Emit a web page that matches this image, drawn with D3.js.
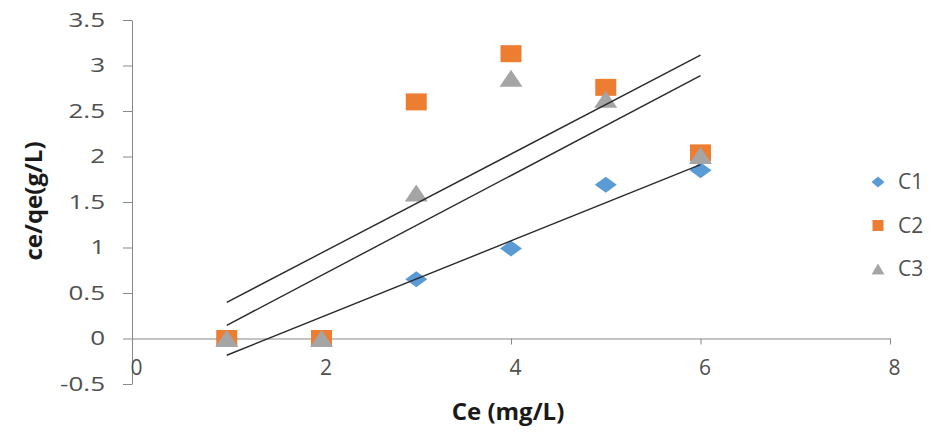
<!DOCTYPE html>
<html>
<head>
<meta charset="utf-8">
<script src="https://cdn.jsdelivr.net/npm/d3@7"></script>
<style>
  body { margin: 0; background: #fff; }
  svg text { font-family: "Open Sans", "DejaVu Sans", sans-serif; }
</style>
</head>
<body>
<div id="chart"></div>
<script>
// Data
const ce = [1, 2, 3, 4, 5, 6];
const c1 = [0, 0, 0.65, 0.99, 1.69, 1.85];
const c2 = [0, 0, 2.60, 3.13, 2.76, 2.04];
const c3 = [0, 0, 1.60, 2.86, 2.63, 2.01];
const seriesNames = ["C1", "C2", "C3"];
const xTicks = [0, 2, 4, 6, 8];
const yTicks = [-0.5, 0, 0.5, 1, 1.5, 2, 2.5, 3, 3.5];

const colors = {C1: "#5B9BD5", C2: "#ED7D31", C3: "#A5A5A5"};
const series = [
  {name: seriesNames[0], values: c1, shape: "diamond"},
  {name: seriesNames[1], values: c2, shape: "square"},
  {name: seriesNames[2], values: c3, shape: "triangle"}
];

const svgWidth = 934, svgHeight = 432;
const svg = d3.select("#chart").append("svg")
  .attr("width", svgWidth)
  .attr("height", svgHeight);

const x = d3.scaleLinear().domain([0, 8]).range([132, 890]);
const y = d3.scaleLinear().domain([-0.5, 3.5]).range([384, 20]);

// marker shapes (offsets around the centre)
function shapePath(shape, w, h) {
  const a = w / 2, b = h / 2;
  if (shape === "diamond") return `M0,${-b}L${a},0L0,${b}L${-a},0Z`;
  if (shape === "square") return `M${-a},${-b}H${a}V${b}H${-a}Z`;
  return `M0,${-b}L${a},${b}H${-a}Z`;
}
const markerSize = {diamond: [22, 16], square: [21, 17], triangle: [23, 17]};

// y axis
const yAxis = svg.append("g")
  .attr("transform", `translate(${x(0)},0)`)
  .call(d3.axisLeft(y).tickValues(yTicks).tickSize(9).tickSizeOuter(0).tickPadding(18)
    .tickFormat(d => String(d)));

// x axis on the zero line
const xAxis = svg.append("g")
  .attr("transform", `translate(0,${y(0)})`)
  .call(d3.axisBottom(x).tickValues(xTicks).tickSize(6).tickSizeOuter(0).tickPadding(16));

[yAxis, xAxis].forEach(g => {
  g.select(".domain").attr("stroke", "#888");
  g.selectAll(".tick line").attr("stroke", "#888");
  g.selectAll(".tick text").attr("fill", "#505050").attr("font-size", 20);
});
xAxis.selectAll(".tick text").attr("dx", 4).attr("font-size", 21);
// the y labels in the picture are drawn a bit wider than normal
yAxis.selectAll(".tick text")
  .attr("x", 0)
  .attr("transform", "translate(-27,0) scale(1.3,1)");

// markers
series.forEach(s => {
  const [w, h] = markerSize[s.shape];
  svg.append("g").selectAll("path")
    .data(ce.map((c, i) => ({x: c, y: s.values[i]})))
    .enter().append("path")
      .attr("transform", d => `translate(${x(d.x)},${y(d.y)})`)
      .attr("d", shapePath(s.shape, w, h))
      .attr("fill", colors[s.name]);
});

// linear trend lines (least squares, like Excel)
function fit(xs, ys) {
  const mx = d3.mean(xs), my = d3.mean(ys);
  const sxy = d3.sum(xs, (v, i) => (v - mx) * (ys[i] - my));
  const sxx = d3.sum(xs, v => (v - mx) * (v - mx));
  const m = sxy / sxx;
  return {m: m, b: my - m * mx};
}
const line = d3.line().x(d => x(d[0])).y(d => y(d[1]));
series.forEach(s => {
  const f = fit(ce, s.values);
  const ends = d3.extent(ce).map(c => [c, f.m * c + f.b]);
  svg.append("path")
    .attr("d", line(ends))
    .attr("fill", "none")
    .attr("stroke", "#2a2a2a")
    .attr("stroke-width", 1.4);
});

// axis titles
svg.append("text")
  .attr("transform", "translate(42,201) rotate(-90)")
  .attr("text-anchor", "middle")
  .attr("font-size", 24)
  .attr("font-weight", "bold")
  .attr("fill", "#1a1a1a")
  .text("ce/qe(g/L)");

svg.append("text")
  .attr("x", 508)
  .attr("y", 420)
  .attr("text-anchor", "middle")
  .attr("font-size", 24)
  .attr("font-weight", "bold")
  .attr("fill", "#1a1a1a")
  .text("Ce (mg/L)");

// legend
const legend = svg.append("g").selectAll("g")
  .data(series)
  .enter().append("g")
    .attr("transform", (d, i) => `translate(878,${182 + i * 43.5})`);
legend.append("path")
  .attr("d", d => d.shape === "diamond" ? shapePath("diamond", 13, 11)
    : d.shape === "square" ? shapePath("square", 11, 11) : shapePath("triangle", 13, 11))
  .attr("fill", d => colors[d.name]);
legend.append("text")
  .attr("x", 20)
  .attr("dy", "0.35em")
  .attr("font-size", 21)
  .attr("fill", "#505050")
  .text(d => d.name);
</script>
</body>
</html>
